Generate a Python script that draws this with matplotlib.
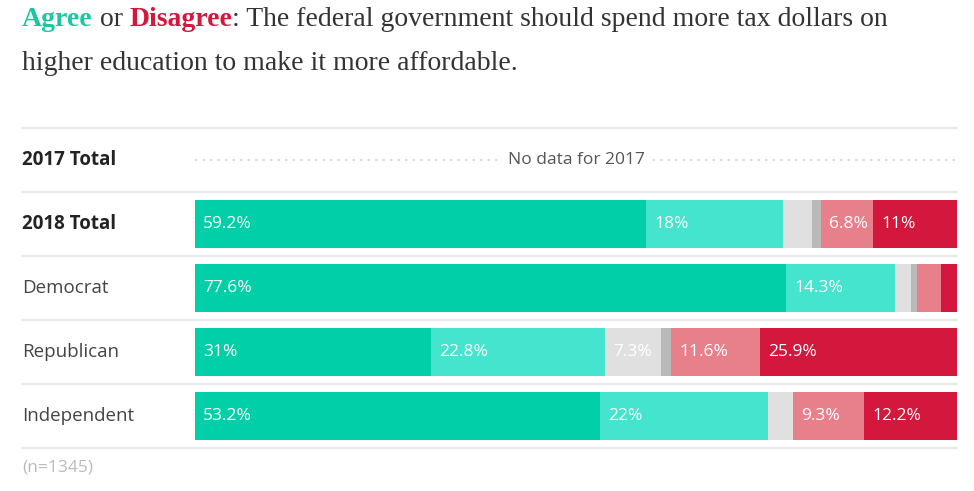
import matplotlib
matplotlib.use("Agg")
import matplotlib.pyplot as plt

plt.rcParams['font.family'] = ['Open Sans', 'DejaVu Sans']

# data
rows = ["2017 Total", "2018 Total", "Democrat", "Republican", "Independent"]
bold_rows = ["2017 Total", "2018 Total"]
categories = ["Strongly agree", "Somewhat agree", "Neither", "Don't know",
              "Somewhat disagree", "Strongly disagree"]
colors = ["#00CFA8", "#45E4CE", "#E0E0E0", "#B9B9B9", "#E8808B", "#D4173C"]
values = {
    "2018 Total":  [59.2, 18.0, 3.8, 1.2, 6.8, 11.0],
    "Democrat":    [77.6, 14.3, 2.0, 0.9, 3.1, 2.1],
    "Republican":  [31.0, 22.8, 7.3, 1.4, 11.6, 25.9],
    "Independent": [53.2, 22.0, 3.3, 0.0, 9.3, 12.2],
}
sample_note = "(n=1345)"

W, H = 974, 491
fig = plt.figure(figsize=(W / 100, H / 100), dpi=100)

# bar area in pixels
x0, x1 = 195, 957
y_top, y_bot = 128, 448
ax = fig.add_axes([x0 / W, (H - y_bot) / H, (x1 - x0) / W, (y_bot - y_top) / H])
ax.set_xlim(0, 100)
ax.set_ylim(len(rows) - 0.5, -0.5)
ax.axis('off')

px = 100 / (x1 - x0)  # percent per pixel
sep_left = (22 - x0) / (x1 - x0)

for i in range(len(rows) + 1):
    ax.axhline(i - 0.5, xmin=sep_left, xmax=1, color="#E9E9E9", lw=1.6,
               clip_on=False, zorder=0)

for i, r in enumerate(rows):
    weight = "bold" if r in bold_rows else "normal"
    color = "#222222" if r in bold_rows else "#444444"
    fig.text(22 / W, 1 - (y_top + 64 * i + 32) / H, r, fontsize=13.5,
             fontweight=weight, color=color, va="center", ha="left")
    if r not in values:
        ax.plot([0, 100], [i, i], color="#D6D6D6", lw=1.2, ls=(0, (1.5, 3)),
                zorder=1)
        ax.text(50, i, "No data for 2017", ha="center", va="center",
                fontsize=12.5, color="#555555", zorder=2,
                bbox=dict(facecolor="white", edgecolor="none", pad=4))
        continue
    left = 0
    for v, c in zip(values[r], colors):
        if v > 0:
            ax.barh(i, v, left=left, height=0.75, color=c, edgecolor="none")
            if v >= 5:
                s = f"{v:g}%"
                ax.text(left + 8 * px, i, s, ha="left", va="center",
                        fontsize=12.5, color="white")
        left += v

fig.text(22 / W, 1 - 468 / H, sample_note, fontsize=12.5, color="#BBBBBB",
         va="center", ha="left")

# title, built from pieces so the two key words can be coloured
renderer = fig.canvas.get_renderer()
tfont = dict(family=["Liberation Serif", "DejaVu Serif"], fontsize=20)
pieces = [("Agree", "#19C7A0", "bold"), (" or ", "#333333", "normal"),
          ("Disagree", "#D4173C", "bold"),
          (": The federal government should spend more tax dollars on",
           "#333333", "normal")]
xpos = 22
for s, c, w in pieces:
    t = fig.text(xpos / W, 1 - 20 / H, s, color=c, fontweight=w, va="center",
                 ha="left", **tfont)
    bb = t.get_window_extent(renderer)
    xpos += bb.width
fig.text(22 / W, 1 - 63 / H, "higher education to make it more affordable.",
         color="#333333", va="center", ha="left", **tfont)

fig.savefig("out.png", dpi=100)
